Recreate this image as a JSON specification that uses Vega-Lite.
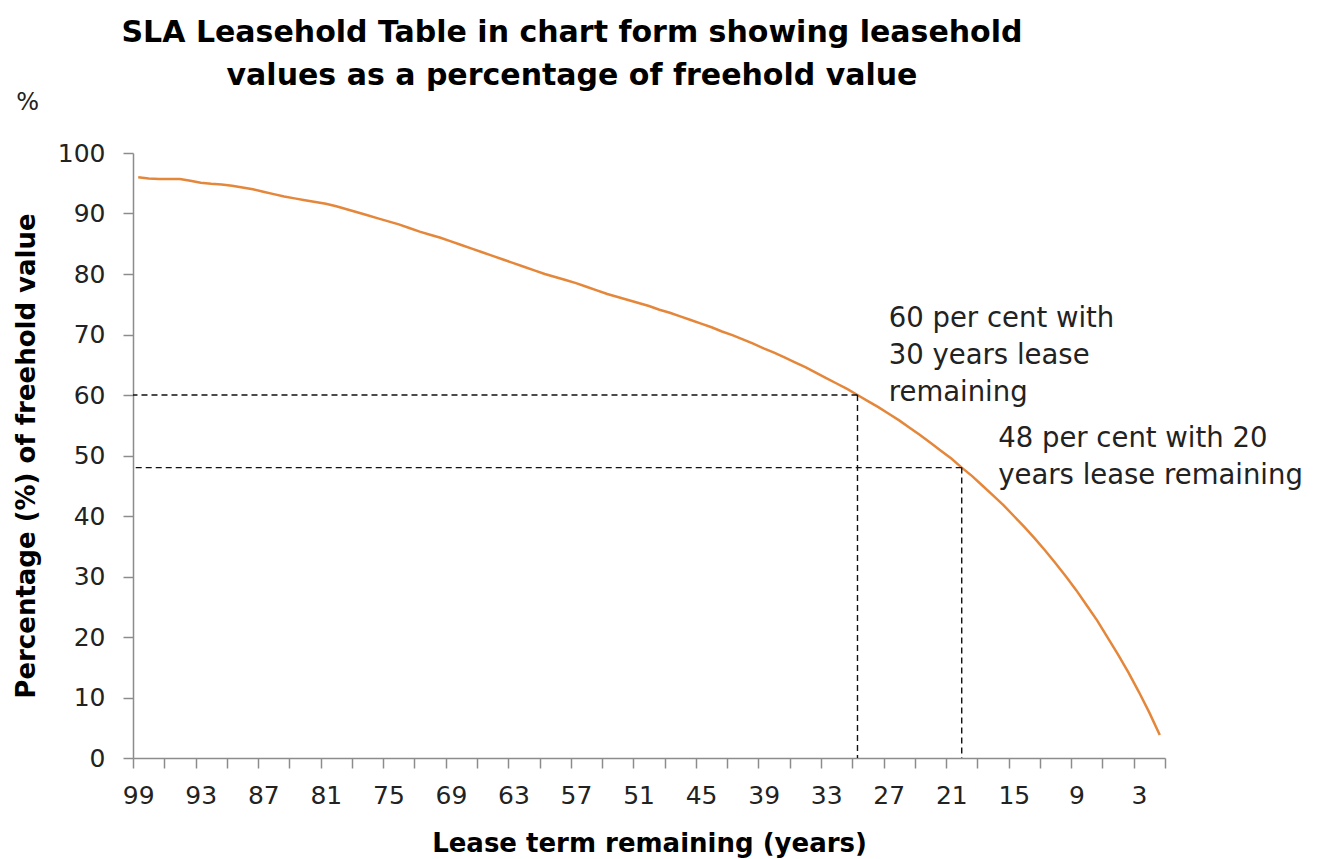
{
  "$schema": "https://vega.github.io/schema/vega-lite/v6.json",
  "width": 1032,
  "height": 605,
  "autosize": {"type": "none"},
  "padding": {"left": 133, "top": 153, "right": 155, "bottom": 101},
  "background": "white",
  "config": {"view": {"stroke": null}, "font": "DejaVu Sans"},
  "title": {
    "text": ["SLA Leasehold Table in chart form showing leasehold", "values as a percentage of freehold value"],
    "font": "DejaVu Sans",
    "fontSize": 30,
    "fontWeight": "bold",
    "color": "#000000",
    "anchor": "middle",
    "dx": -77,
    "offset": 0,
    "lineHeight": 43
  },
  "datasets": {
    "sla": [
      {"years": 99, "pct": 96.0}, {"years": 98, "pct": 95.8}, {"years": 97, "pct": 95.7}, {"years": 96, "pct": 95.7},
      {"years": 95, "pct": 95.7}, {"years": 94, "pct": 95.4}, {"years": 93, "pct": 95.1}, {"years": 92, "pct": 94.9},
      {"years": 91, "pct": 94.8}, {"years": 90, "pct": 94.6}, {"years": 89, "pct": 94.3}, {"years": 88, "pct": 94.0},
      {"years": 87, "pct": 93.6}, {"years": 86, "pct": 93.2}, {"years": 85, "pct": 92.8}, {"years": 84, "pct": 92.5},
      {"years": 83, "pct": 92.2}, {"years": 82, "pct": 91.9}, {"years": 81, "pct": 91.6}, {"years": 80, "pct": 91.2},
      {"years": 79, "pct": 90.7}, {"years": 78, "pct": 90.2}, {"years": 77, "pct": 89.7}, {"years": 76, "pct": 89.2},
      {"years": 75, "pct": 88.7}, {"years": 74, "pct": 88.2}, {"years": 73, "pct": 87.6}, {"years": 72, "pct": 87.0},
      {"years": 71, "pct": 86.5}, {"years": 70, "pct": 86.0}, {"years": 69, "pct": 85.4}, {"years": 68, "pct": 84.8},
      {"years": 67, "pct": 84.2}, {"years": 66, "pct": 83.6}, {"years": 65, "pct": 83.0}, {"years": 64, "pct": 82.4},
      {"years": 63, "pct": 81.8}, {"years": 62, "pct": 81.2}, {"years": 61, "pct": 80.6}, {"years": 60, "pct": 80.0},
      {"years": 59, "pct": 79.5}, {"years": 58, "pct": 79.0}, {"years": 57, "pct": 78.5}, {"years": 56, "pct": 77.9},
      {"years": 55, "pct": 77.3}, {"years": 54, "pct": 76.7}, {"years": 53, "pct": 76.2}, {"years": 52, "pct": 75.7},
      {"years": 51, "pct": 75.2}, {"years": 50, "pct": 74.7}, {"years": 49, "pct": 74.1}, {"years": 48, "pct": 73.6},
      {"years": 47, "pct": 73.0}, {"years": 46, "pct": 72.4}, {"years": 45, "pct": 71.8}, {"years": 44, "pct": 71.2},
      {"years": 43, "pct": 70.5}, {"years": 42, "pct": 69.9}, {"years": 41, "pct": 69.2}, {"years": 40, "pct": 68.5},
      {"years": 39, "pct": 67.7}, {"years": 38, "pct": 67.0}, {"years": 37, "pct": 66.2}, {"years": 36, "pct": 65.4},
      {"years": 35, "pct": 64.6}, {"years": 34, "pct": 63.7}, {"years": 33, "pct": 62.8}, {"years": 32, "pct": 61.9},
      {"years": 31, "pct": 61.0}, {"years": 30, "pct": 60.0}, {"years": 29, "pct": 59.0}, {"years": 28, "pct": 58.0},
      {"years": 27, "pct": 56.9}, {"years": 26, "pct": 55.8}, {"years": 25, "pct": 54.6}, {"years": 24, "pct": 53.4},
      {"years": 23, "pct": 52.1}, {"years": 22, "pct": 50.8}, {"years": 21, "pct": 49.5}, {"years": 20, "pct": 48.0},
      {"years": 19, "pct": 46.6}, {"years": 18, "pct": 45.0}, {"years": 17, "pct": 43.4}, {"years": 16, "pct": 41.8},
      {"years": 15, "pct": 40.0}, {"years": 14, "pct": 38.2}, {"years": 13, "pct": 36.3}, {"years": 12, "pct": 34.3},
      {"years": 11, "pct": 32.2}, {"years": 10, "pct": 30.0}, {"years": 9, "pct": 27.7}, {"years": 8, "pct": 25.2},
      {"years": 7, "pct": 22.7}, {"years": 6, "pct": 19.9}, {"years": 5, "pct": 17.1}, {"years": 4, "pct": 14.1},
      {"years": 3, "pct": 10.9}, {"years": 2, "pct": 7.5}, {"years": 1, "pct": 3.8}
    ],
    "refs": [
      {"years": 30, "pct": 60},
      {"years": 20, "pct": 48}
    ]
  },
  "resolve": {"axis": {"x": "independent"}},
  "layer": [
    {
      "data": {"name": "sla"},
      "mark": {"type": "line", "color": "#E5873A", "strokeWidth": 2.5, "interpolate": "linear"},
      "encoding": {
        "x": {
          "field": "years",
          "type": "quantitative",
          "scale": {"domain": [0.5, 99.5], "reverse": true, "nice": false, "zero": false},
          "axis": {
            "orient": "bottom",
            "title": "Lease term remaining (years)",
            "titleFont": "DejaVu Sans",
            "titleFontSize": 26,
            "titleFontWeight": "bold",
            "titleColor": "#000000",
            "titlePadding": 22,
            "values": [99, 93, 87, 81, 75, 69, 63, 57, 51, 45, 39, 33, 27, 21, 15, 9, 3],
            "format": "d",
            "ticks": false,
            "labelFont": "DejaVu Sans",
            "labelFontSize": 25,
            "labelColor": "#222222",
            "labelPadding": 25,
            "labelOverlap": false,
            "labelBound": false,
            "labelFlush": false,
            "grid": false,
            "domainColor": "#8C8C8C",
            "domainWidth": 1.5
          }
        },
        "y": {
          "field": "pct",
          "type": "quantitative",
          "scale": {"domain": [0, 100], "nice": false},
          "axis": {
            "title": "Percentage (%) of freehold value",
            "titleFont": "DejaVu Sans",
            "titleFontSize": 26,
            "titleFontWeight": "bold",
            "titleColor": "#000000",
            "titlePadding": 18,
            "values": [0, 10, 20, 30, 40, 50, 60, 70, 80, 90, 100],
            "labelFont": "DejaVu Sans",
            "labelFontSize": 25,
            "labelColor": "#222222",
            "labelPadding": 18,
            "grid": false,
            "domainColor": "#8C8C8C",
            "domainWidth": 1.5,
            "tickColor": "#8C8C8C",
            "tickWidth": 1.5,
            "tickSize": 10
          }
        }
      }
    },
    {
      "data": {"name": "refs"},
      "mark": {"type": "rule", "color": "#111111", "strokeWidth": 1.4, "strokeDash": [6, 4]},
      "encoding": {
        "x": {
          "field": "years",
          "type": "quantitative",
          "axis": {
            "orient": "bottom",
            "title": null,
            "values": [99.5, 96.5, 93.5, 90.5, 87.5, 84.5, 81.5, 78.5, 75.5, 72.5, 69.5, 66.5, 63.5, 60.5, 57.5, 54.5, 51.5, 48.5, 45.5, 42.5, 39.5, 36.5, 33.5, 30.5, 27.5, 24.5, 21.5, 18.5, 15.5, 12.5, 9.5, 6.5, 3.5, 0.5],
            "labels": false,
            "domain": false,
            "grid": false,
            "tickColor": "#8C8C8C",
            "tickWidth": 1.5,
            "tickSize": 10
          }
        },
        "x2": {"datum": 99.5},
        "y": {"field": "pct", "type": "quantitative"}
      }
    },
    {
      "data": {"name": "refs"},
      "mark": {"type": "rule", "color": "#111111", "strokeWidth": 1.4, "strokeDash": [6, 4]},
      "encoding": {
        "x": {"field": "years", "type": "quantitative", "axis": null},
        "y": {"field": "pct", "type": "quantitative"},
        "y2": {"datum": 0}
      }
    },
    {
      "data": {"values": [{"label": "%"}]},
      "mark": {"type": "text", "font": "DejaVu Sans", "fontSize": 24, "color": "#222222", "align": "center", "baseline": "middle"},
      "encoding": {
        "text": {"field": "label"},
        "x": {"datum": 109.6, "axis": null},
        "y": {"datum": 108.3}
      }
    },
    {
      "data": {"values": [{"label": ["60 per cent with", "30 years lease", "remaining"]}]},
      "mark": {"type": "text", "font": "DejaVu Sans", "fontSize": 27.5, "color": "#222222", "align": "left", "baseline": "alphabetic", "lineHeight": 37},
      "encoding": {
        "text": {"field": "label"},
        "x": {"datum": 27.0, "axis": null},
        "y": {"datum": 71.2}
      }
    },
    {
      "data": {"values": [{"label": ["48 per cent with 20", "years lease remaining"]}]},
      "mark": {"type": "text", "font": "DejaVu Sans", "fontSize": 27.5, "color": "#222222", "align": "left", "baseline": "alphabetic", "lineHeight": 37},
      "encoding": {
        "text": {"field": "label"},
        "x": {"datum": 16.5, "axis": null},
        "y": {"datum": 51.4}
      }
    }
  ]
}
